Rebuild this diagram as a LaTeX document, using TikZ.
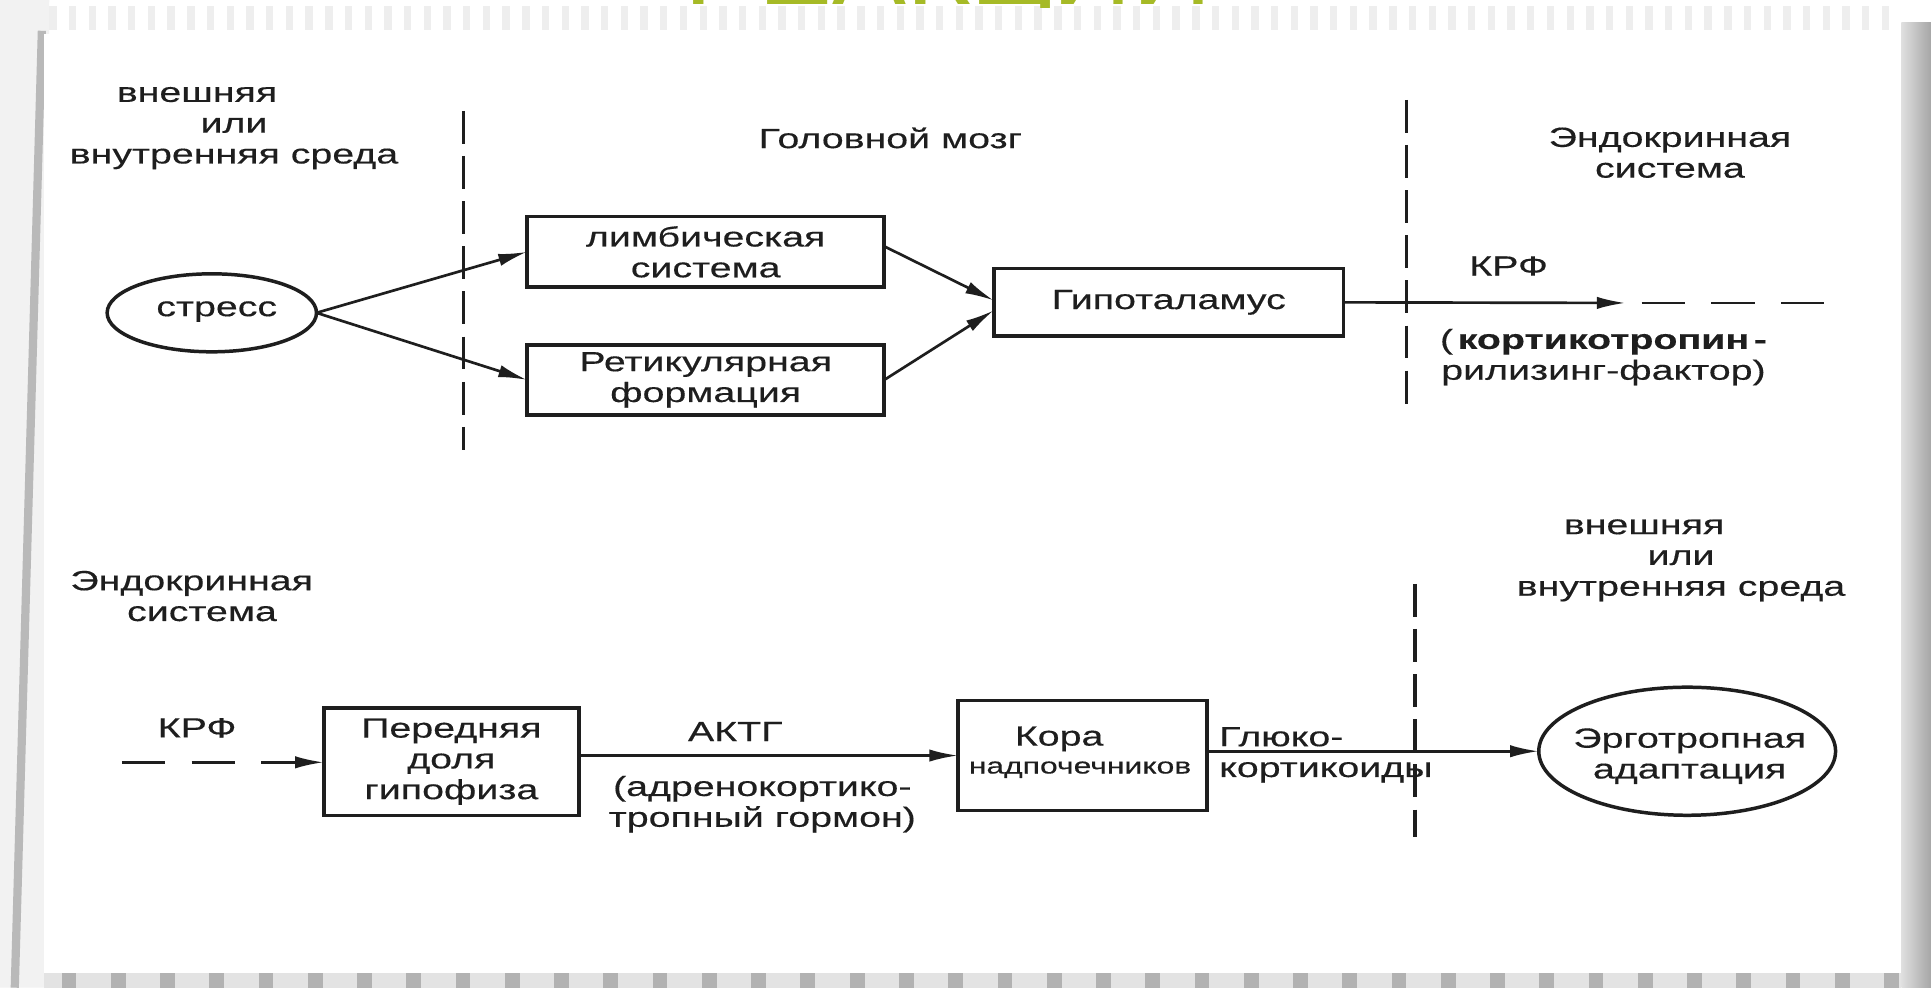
\documentclass[tikz,border=0pt]{standalone}
\usepackage{fontspec}
\setmainfont{Liberation Sans}[FakeStretch=1.42,FakeBold=0.35]
\newfontfamily\titlefont{Liberation Sans}
\usepackage{graphicx}
\usetikzlibrary{arrows.meta,shapes.geometric}
\definecolor{ink}{RGB}{30,30,30}
\definecolor{titlegreen}{RGB}{166,186,38}
\begin{document}
\begin{tikzpicture}[x=0.6pt,y=-0.6pt,
  every node/.style={inner sep=0pt, outer sep=0pt},
  lbl/.style={font=\fontsize{13.5}{15}\selectfont, text=ink, align=center},
  boxnode/.style={draw=ink, line width=1.7pt, rectangle, lbl},
  ovalnode/.style={draw=ink, line width=1.7pt, ellipse},
  conn/.style={draw=ink, line width=1.3pt, -{Latex[length=14pt,width=6pt]}},
  dashconn/.style={draw=ink, line width=1.3pt, dash pattern=on 21pt off 13pt},
  divider/.style={draw=ink, line width=1.5pt, dash pattern=on 16pt off 6pt}]
\useasboundingbox (0,0) rectangle (1568,802);
\clip (0,0) rectangle (1568,802);
% ---- slide frame ----
\fill[white] (0,0) rectangle (1568,802);
\foreach \i in {0,...,93} \fill[gray!13] ({40+\i*16},5) rectangle ({46+\i*16},24);
\fill[gray!10] (0,0) -- (40,0) -- (36,802) -- (0,802) -- cycle;
\draw[gray!55, line width=4pt] (34,25) -- (12,802);
\shade[left color=gray!25, right color=gray!70] (1544,18) rectangle (1568,802);
\fill[gray!22] (36,790) rectangle (1544,802);
\foreach \i in {0,...,37} \fill[gray!60] ({50+\i*40},790) rectangle ({62+\i*40},802);
\fill[white] (36,28) rectangle (1544,790);
\begin{scope}
  \clip (500,0) rectangle (1100,6);
  \node[anchor=base, font=\titlefont\fontsize{54}{54}\selectfont, text=titlegreen] (title) at (770,4) {РЕАКЦИИ};
\end{scope}
% ---- top row ----
\node[lbl] (envA) at (190,104) {внешняя\hspace*{36pt}\\или\hspace*{32pt}\\внутренняя среда};
\node[lbl] (brain) at (723,112) {Головной мозг};
\node[lbl] (endoA) at (1356,124) {Эндокринная\\система};
\coordinate (d1t) at (376,90);  \coordinate (d1b) at (376,365);
\coordinate (d2t) at (1142,81); \coordinate (d2b) at (1142,332);
\coordinate (d3t) at (1149,474); \coordinate (d3b) at (1149,680);
\draw[divider] (d1t) -- (d1b);
\draw[divider] (d2t) -- (d2b);
\draw[divider] (d3t) -- (d3b);
\node[ovalnode, minimum width=102pt, minimum height=38pt] (stress) at (172,254) {};
\node[lbl] (stresst) at (176,253) {стресс};
\node[boxnode, minimum width=174pt, minimum height=34.2pt] (limb) at (573,204.5) {лимбическая\\система};
\node[boxnode, minimum width=174pt, minimum height=34.2pt] (ret) at (573,308.5) {Ретикулярная\\формация};
\node[boxnode, minimum width=170.4pt, minimum height=33pt] (hypo) at (949,245.5) {Гипоталамус};
\draw[conn] (stress.east) -- (limb.west);
\draw[conn] (stress.east) -- (ret.west);
\draw[conn] ([yshift=2.7pt]limb.east) -- ([yshift=0.9pt]hypo.west);
\draw[conn] (ret.east) -- ([yshift=-3.9pt]hypo.west);
\coordinate (krfTip) at (1320,246);
\coordinate (krfD) at (1333,246);
\coordinate (krfEnd) at (1489,246);
\draw[conn] (hypo.east) -- (krfTip);
\draw[dashconn] (krfD) -- (krfEnd);
\node[lbl] (krfA) at (1225,216) {КРФ};
\node[lbl] (cortico) at (1302,290) {(\,\textbf{кортикотропин\,-}\\рилизинг-фактор)};
% ---- bottom row ----
\node[lbl] (endoB) at (164,484) {Эндокринная\hspace*{10pt}\\система};
\node[lbl] (envB) at (1365,455) {внешняя\hspace*{36pt}\\или\hspace*{32pt}\\внутренняя среда};
\node[lbl] (krfB) at (160,591) {КРФ};
\node[boxnode, minimum width=124.2pt, minimum height=52.2pt] (pered) at (366.5,618.5) {Передняя\\доля\\гипофиза};
\node[boxnode, minimum width=121.2pt, minimum height=53.4pt] (kora) at (879,613.5) {};
\node[lbl] (korat) at (860,600) {Кора};
\node[lbl] (nadp) at (877,625) {\scalebox{0.81}{надпочечников}};
\coordinate (krfIn) at (99,619);
\draw[dashconn, -{Latex[length=14pt,width=6pt]}] (krfIn) -- (krfIn -| pered.west);
\node[lbl] (acth) at (597,594) {АКТГ};
\draw[conn] (pered.east |- kora.west) -- (kora.west);
\node[lbl] (adreno) at (619,653) {(адренокортико-\\тропный гормон)};
\node[ovalnode, minimum width=144.6pt, minimum height=62.4pt] (ergo) at (1370,610) {};
\node[lbl] (ergot) at (1372,614) {Эрготропная\\адаптация};
\node[lbl, anchor=west, align=left] (gluko) at (990,613) {Глюко-\\кортикоиды};
\draw[conn] (kora.east |- ergo.west) -- (ergo.west);
\end{tikzpicture}
\end{document}
